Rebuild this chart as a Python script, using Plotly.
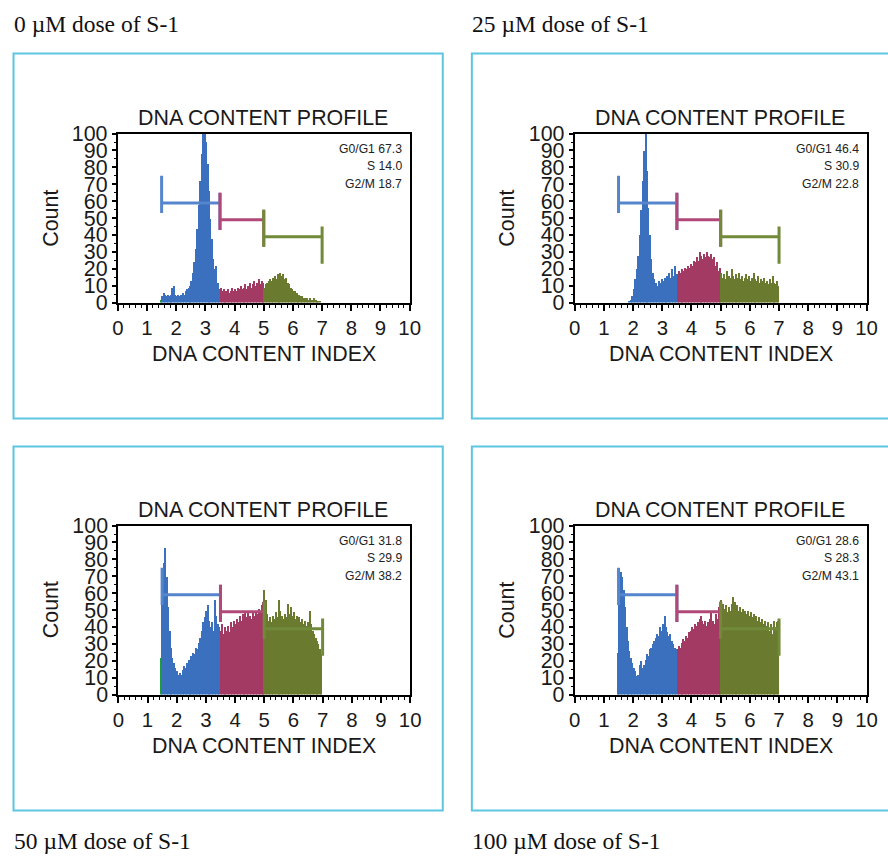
import numpy as np
import plotly.graph_objects as go

W, H = 888, 856
# the photographed picture maps page pixel p to ~ A + S*p; place items so they land on the reference pixels
AX, SX = 7.5, 0.978
AY, SY = 11.4, 0.972
FS = 1.02  # font compensation for that scale

# ---------------- data ----------------
BIN = 0.05
BLUE_START, MAG_START, GREEN_START = 1.5, 3.5, 5.0

captions = ["0 \u00b5M dose of S-1", "25 \u00b5M dose of S-1",
            "50 \u00b5M dose of S-1", "100 \u00b5M dose of S-1"]
g0g1 = ["67.3", "46.4", "31.8", "28.6"]
s_phase = ["14.0", "30.9", "29.9", "28.3"]
g2m = ["18.7", "22.8", "38.2", "43.1"]
debris = [2, 0, 22, 25]

x_ticks = [0, 1, 2, 3, 4, 5, 6, 7, 8, 9, 10]
y_ticks = [0, 10, 20, 30, 40, 50, 60, 70, 80, 90, 100]

gate_x = [1.5, 3.5, 5.0, 7.0]
gate_level = [59, 49, 39]

blue_0 = [4, 6, 5, 4, 5, 4, 5, 9, 10, 5, 4, 5, 4, 5, 6, 5, 7, 8, 9, 10,
          13, 18, 24, 32, 44, 58, 72, 88, 100, 100, 95, 82, 66, 50, 38, 26, 20, 22, 12, 8]
mag_0 = [9, 7, 8, 6, 7, 8, 6, 7, 9, 7, 8, 7, 9, 8, 10, 8, 9, 11, 8, 10,
         12, 9, 11, 13, 10, 12, 14, 11, 13, 12]
green_0 = [9, 11, 12, 13, 14, 13, 15, 16, 14, 17, 15, 18, 16, 17, 14, 15, 12, 11, 9, 8,
           7, 7, 6, 5, 5, 4, 4, 3, 3, 3, 2, 3, 2, 2, 3, 2, 1, 1, 1, 0]

blue_25 = [0, 0, 0, 0, 0, 0, 0, 1, 2, 4, 8, 14, 20, 28, 40, 55, 72, 90, 100, 78,
           56, 40, 26, 18, 14, 12, 10, 13, 12, 14, 13, 15, 14, 16, 18, 15, 20, 16, 22, 17]
mag_25 = [17, 19, 18, 20, 19, 21, 20, 22, 21, 23, 22, 25, 24, 27, 25, 30, 28, 26, 29, 27,
          30, 28, 27, 29, 26, 27, 22, 24, 19, 21]
green_25 = [18, 15, 17, 14, 19, 16, 15, 20, 16, 14, 17, 15, 18, 14, 16, 13, 15, 17, 14, 16,
            13, 15, 18, 14, 13, 16, 12, 14, 13, 15, 12, 13, 11, 14, 12, 16, 12, 11, 13, 10]

blue_50 = [75, 78, 87, 70, 52, 38, 28, 22, 19, 16, 14, 12, 13, 12, 15, 17, 16, 19, 21, 20,
           23, 25, 24, 28, 27, 31, 34, 38, 43, 46, 50, 53, 44, 40, 43, 38, 56, 47, 42, 40]
mag_50 = [38, 42, 36, 40, 38, 41, 37, 43, 40, 44, 42, 45, 43, 47, 44, 48, 45, 49, 46, 50,
          47, 45, 49, 47, 50, 48, 51, 49, 53, 55]
green_50 = [62, 56, 48, 44, 46, 43, 47, 45, 49, 46, 56, 50, 47, 45, 48, 46, 54, 48, 52, 47,
            49, 45, 47, 44, 46, 43, 45, 42, 44, 41, 43, 50, 42, 38, 36, 34, 32, 30, 27, 24]

blue_100 = [75, 73, 70, 62, 52, 40, 32, 26, 22, 19, 16, 14, 11, 12, 18, 20, 16, 18, 21, 24,
            23, 27, 28, 30, 32, 34, 36, 35, 40, 38, 42, 47, 40, 37, 35, 36, 32, 30, 28, 27]
mag_100 = [27, 29, 28, 31, 33, 32, 35, 34, 37, 38, 40, 39, 42, 41, 43, 45, 47, 44, 42, 44,
           41, 43, 45, 50, 44, 42, 48, 45, 52, 54]
green_100 = [56, 54, 51, 53, 49, 52, 50, 54, 58, 55, 51, 53, 50, 52, 49, 51, 50, 48, 50, 47,
             49, 46, 48, 45, 47, 44, 46, 43, 45, 42, 44, 41, 43, 38, 42, 36, 44, 40, 43, 44]

panels = [
    (blue_0, mag_0, green_0),
    (blue_25, mag_25, green_25),
    (blue_50, mag_50, green_50),
    (blue_100, mag_100, green_100),
]

C_BLUE, C_MAG, C_GREEN = "#3a70bd", "#a33a63", "#6a7b30"
G_BLUE, G_MAG, G_GREEN = "#5585cc", "#b14877", "#718a3a"
C_DEBRIS = "#1f9a3f"
CYAN = "#5cc6e2"
SANS = "Liberation Sans, Arial, sans-serif"
SERIF = "Liberation Serif, Times New Roman, serif"

# reference pixel boxes: (x0, x1, ytop, ybottom)
boxes = [
    (119.0, 410.0, 133.0, 302.0),
    (574.6, 865.6, 133.0, 302.0),
    (119.5, 410.5, 525.0, 694.0),
    (574.6, 865.6, 525.0, 694.0),
]
frames = [(15, 443, 53, 418), (472, 900, 53, 418), (15, 443, 446, 810), (472, 900, 446, 810)]
caption_pos = [(13, 23), (470, 23), (13, 840), (470, 840)]


def px(x):
    return ((x - AX) / SX) / W


def py(y):
    return 1 - ((y - AY) / SY) / H


def f(s):
    return round(s * FS, 1)


fig = go.Figure()
layout = dict(
    width=W, height=H, margin=dict(l=0, r=0, t=0, b=0),
    paper_bgcolor="white", plot_bgcolor="white",
    showlegend=False, barmode="overlay", bargap=0,
    annotations=[], shapes=[],
)

for i, (blue, mag, green) in enumerate(panels):
    sfx = "" if i == 0 else str(i + 1)
    xa, ya = "x" + sfx, "y" + sfx
    x0, x1, yt, yb = boxes[i]

    bx = [BLUE_START + BIN * (k + 0.5) for k in range(len(blue))]
    mx = [MAG_START + BIN * (k + 0.5) for k in range(len(mag))]
    gx = [GREEN_START + BIN * (k + 0.5) for k in range(len(green))]

    if debris[i] > 0:
        fig.add_trace(go.Bar(x=[BLUE_START - BIN / 2], y=[debris[i]], width=BIN,
                             marker=dict(color=C_DEBRIS, line=dict(width=0)),
                             xaxis=xa, yaxis=ya, hoverinfo="skip"))
    for xs, ys, col in ((bx, blue, C_BLUE), (mx, mag, C_MAG), (gx, green, C_GREEN)):
        fig.add_trace(go.Bar(x=xs, y=ys, width=BIN,
                             marker=dict(color=col, line=dict(width=0)),
                             xaxis=xa, yaxis=ya, hoverinfo="skip"))

    for g, col in enumerate((G_BLUE, G_MAG, G_GREEN)):
        a, b = gate_x[g], gate_x[g + 1]
        L = gate_level[g]
        fig.add_trace(go.Scatter(
            x=[a, b, None, a, a, None, b, b],
            y=[L, L, None, L - 6, L + 16, None, L - 16, L + 6],
            mode="lines", line=dict(color=col, width=3),
            xaxis=xa, yaxis=ya, hoverinfo="skip"))

    layout["xaxis" + sfx] = dict(
        domain=[px(x0), px(x1)], anchor=ya, range=[0, 10],
        tickmode="array", tickvals=x_ticks, ticktext=[str(t) for t in x_ticks],
        ticks="outside", ticklen=6, tickwidth=1.5, tickcolor="black",
        minor=dict(dtick=0.2, ticks="outside", ticklen=3, tickwidth=1, tickcolor="black"),
        showline=True, linewidth=2, linecolor="black", mirror=True,
        showgrid=False, zeroline=False,
        tickfont=dict(family=SANS, size=f(20), color="#1a1a1a"),
    )
    layout["yaxis" + sfx] = dict(
        domain=[py(yb), py(yt)], anchor=xa, range=[0, 100],
        tickmode="array", tickvals=y_ticks, ticktext=[str(t) for t in y_ticks],
        ticks="outside", ticklen=4, tickwidth=1.5, tickcolor="black",
        minor=dict(dtick=5, ticks="outside", ticklen=2, tickwidth=1, tickcolor="black"),
        showline=True, linewidth=2, linecolor="black", mirror=True,
        showgrid=False, zeroline=False,
        tickfont=dict(family=SANS, size=f(21), color="#1a1a1a"),
    )

    cx = (x0 + x1) / 2
    cy = (yt + yb) / 2
    ann = layout["annotations"]
    ann.append(dict(text="DNA CONTENT PROFILE", x=px(cx - 1), y=py(yt - 16), xref="paper", yref="paper",
                    showarrow=False, xanchor="center", yanchor="middle",
                    font=dict(family=SANS, size=f(21), color="#1a1a1a")))
    ann.append(dict(text="DNA CONTENT INDEX", x=px(cx), y=py(yb + 51), xref="paper", yref="paper",
                    showarrow=False, xanchor="center", yanchor="middle",
                    font=dict(family=SANS, size=f(21), color="#1a1a1a")))
    ann.append(dict(text="Count", x=px(x0 - 67), y=py(cy), xref="paper", yref="paper",
                    showarrow=False, xanchor="center", yanchor="middle", textangle=-90,
                    font=dict(family=SANS, size=f(21), color="#1a1a1a")))
    for k, t in enumerate(("G0/G1 " + g0g1[i], "S " + s_phase[i], "G2/M " + g2m[i])):
        ann.append(dict(text=t, x=px(x1 - 6), y=py(yt + 15 + 17.5 * k), xref="paper", yref="paper",
                        showarrow=False, xanchor="right", yanchor="middle",
                        font=dict(family=SANS, size=f(12), color="#222")))
    cxp, cyp = caption_pos[i]
    ann.append(dict(text=captions[i], x=px(cxp), y=py(cyp), xref="paper", yref="paper",
                    showarrow=False, xanchor="left", yanchor="middle",
                    font=dict(family=SERIF, size=f(23), color="#111")))

    fx0, fx1, fy0, fy1 = frames[i]
    layout["shapes"].append(dict(type="rect", xref="paper", yref="paper",
                                 x0=px(fx0), x1=px(fx1), y0=py(fy1), y1=py(fy0),
                                 line=dict(color=CYAN, width=2)))

fig.update_layout(**layout)
fig.write_html("out.html", config={"displayModeBar": False},
               post_script="document.body.style.margin='0';document.body.style.overflow='hidden';")
